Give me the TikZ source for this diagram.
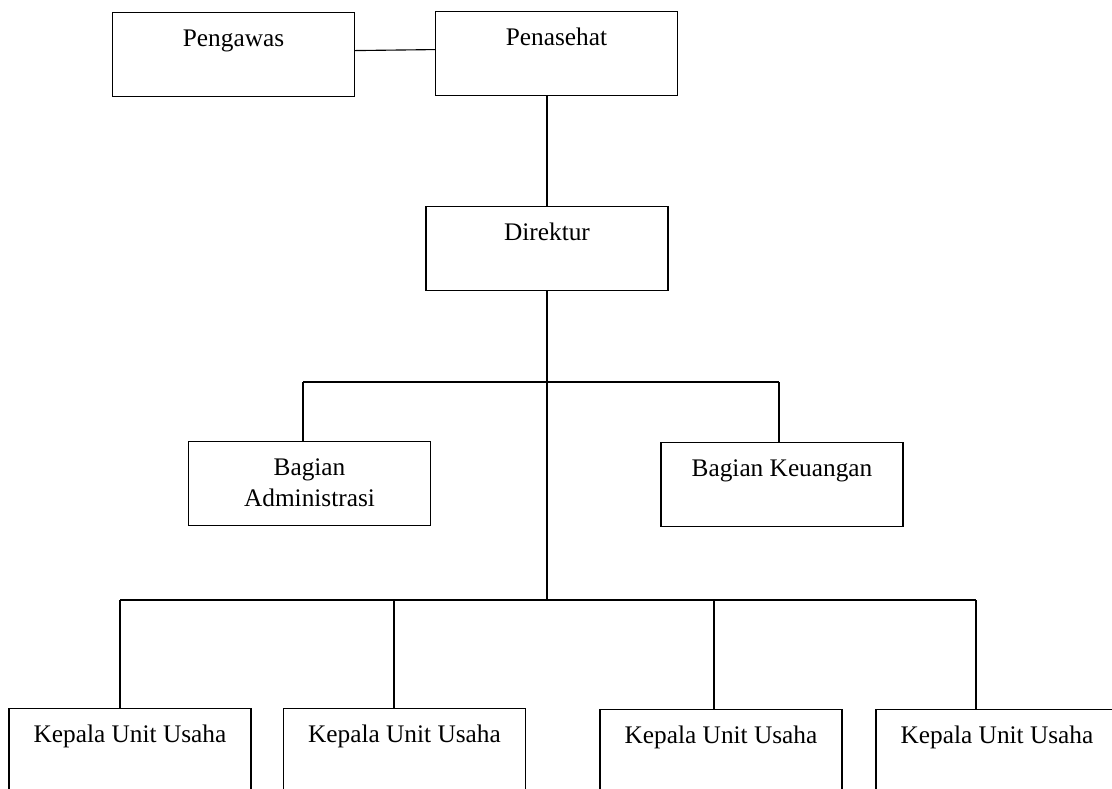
\documentclass[tikz,border=0pt]{standalone}
\usepackage{fontspec}
\setmainfont{Liberation Serif}
\begin{document}
\begin{tikzpicture}[x=0.025cm, y=-0.025cm, line width=0.8pt,
    box/.style = {draw, anchor=north, minimum width=6.05cm, inner sep=0pt, text height=0.84cm, text depth=1.26cm, align=center, font=\fontsize{18}{22}\selectfont}]
    \useasboundingbox (0,0) rectangle (1112,789);
    \clip (0,0) rectangle (1112,789);

    \node[box] (pengawas) at (233.5,12) {Pengawas};
    \node[box] (penasehat) at (556.5,11) {Penasehat};
    \node[box] (direktur) at (547,206) {Direktur};

    \draw ([yshift=1mm]pengawas.east) -- ([yshift=1mm]penasehat.west);
    \draw (penasehat.south -| direktur.north) -- (direktur.north);


    \node[box, text height=1.616cm, text depth=0.484cm] (admin) at (309.5,441) {Bagian\\Administrasi};
    \node[box] (keuangan) at (782,442) {Bagian Keuangan};

    \coordinate (b1) at (303,382);
    \coordinate (b2) at (779,382);

    \draw (b1) -- (b2);
    \draw (b1) -- (b1 |- admin.north);
    \draw (b2) -- (b2 |- keuangan.north);


    \node[box] (kuu1) at (130,708) {Kepala Unit Usaha};
    \node[box] (kuu2) at (404.5,708) {Kepala Unit Usaha};
    \node[box] (kuu3) at (721,709) {Kepala Unit Usaha};
    \node[box] (kuu4) at (997,709) {Kepala Unit Usaha};

    \coordinate (u1) at (120,600);
    \coordinate (u2) at (394,600);
    \coordinate (u3) at (714,600);
    \coordinate (u4) at (976,600);

    \draw (direktur.south) -- (direktur.south |- u1);
    \draw (u1) -- (u4);
    \draw (u1) -- (u1 |- kuu1.north);
    \draw (u2) -- (u2 |- kuu2.north);
    \draw (u3) -- (u3 |- kuu3.north);
    \draw (u4) -- (u4 |- kuu4.north);

\end{tikzpicture}
\end{document}
